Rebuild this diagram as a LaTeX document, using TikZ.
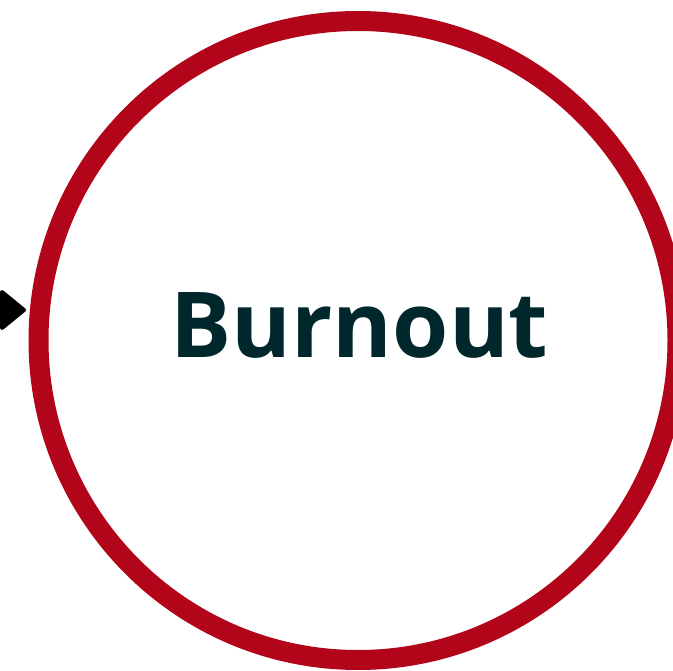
\documentclass[tikz,border=0pt]{standalone}
\usepackage{fontspec}
\setmainfont{Open Sans}
\usetikzlibrary{arrows.meta}
\definecolor{ringred}{HTML}{B20519}
\definecolor{textteal}{HTML}{00282C}
\tikzset{
  ring/.style={circle, draw=ringred, line width=20pt, minimum size=639pt, inner sep=0pt},
  title/.style={font=\fontsize{91}{100}\selectfont\bfseries, text=textteal, inner sep=0pt, anchor=base},
  tiphead/.style={fill=black, draw=black, line width=4pt, line join=round}
}
\begin{document}
\begin{tikzpicture}[x=1pt,y=-1pt]
\useasboundingbox (0,0) rectangle (673,671);
\begin{scope}
\clip (0,0) rectangle (673,671);
\node[ring] (burn) at (358,340.5) {};
\node[title] (lbl) at (359.5,358) {Burnout};
\coordinate (src) at (-30,310);
\coordinate (dst) at (24,310);
\draw[line width=8pt, black] (src) -- ([xshift=-12pt]dst);
\path[tiphead] (dst) -- ++(-22,-18) -- ++(0,36) -- cycle;
\end{scope}
\end{tikzpicture}
\end{document}
